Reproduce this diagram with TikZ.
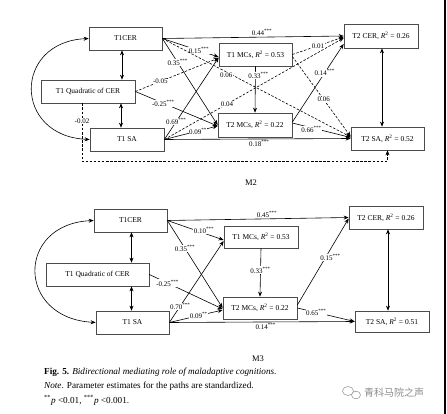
\documentclass[tikz,border=0pt]{standalone}
\usepackage{fontspec}
\setmainfont{Liberation Serif}
\newfontfamily\cjkfont{Noto Sans CJK SC}
\usetikzlibrary{arrows.meta,calc}
\newcommand\pthree{\textsuperscript{***}}
\newcommand\ptwo{\textsuperscript{**}}
\newcommand\Rsq{\textit{R}\textsuperscript{2}}
\begin{document}
\begin{tikzpicture}[x=1pt,y=-1pt,
 box/.style={draw=black!70,line width=0.7pt,minimum width=#1,minimum height=23pt,inner sep=0pt,font=\fontsize{7.5}{9}\selectfont},
 box/.default=73pt,
 pth/.style={line width=0.6pt,-{Stealth[length=5pt,width=4pt]}},
 dpth/.style={pth,dash pattern=on 2.5pt off 1.6pt},
 dbl/.style={line width=0.6pt,{Stealth[length=5pt,width=4pt]}-{Stealth[length=5pt,width=4pt]}},
 lab/.style={font=\fontsize{7}{8}\selectfont,fill=white,inner sep=0.5pt},
 nlab/.style={font=\fontsize{7}{8}\selectfont,inner sep=1pt}
]
\useasboundingbox (0,0) rectangle (447,414);
\fill[white] (0,0) rectangle (447,414);

% ---------------- M2 ----------------
\node[box=73pt] (a1) at (125.5,38.5) {T1CER};
\node[box=94pt] (q1) at (88,91.5) {T1 Quadratic of CER};
\node[box=74pt] (s1) at (127,139.5) {T1 SA};
\node[box=73pt] (m1) at (255.5,54.5) {T1 MCs, \Rsq{} = 0.53};
\node[box=74pt,minimum height=24pt] (n1) at (255,125) {T2 MCs, \Rsq{} = 0.22};
\node[box=74pt,minimum height=24pt] (c2) at (381,36) {T2 CER, \Rsq{} = 0.26};
\node[box=73pt] (t2) at (387.5,138.5) {T2 SA, \Rsq{} = 0.52};

\coordinate (aq1) at ($(a1.south)+(-3.5,0)$);
\coordinate (sq1) at ($(s1.north)+(-6,0)$);
\coordinate (ct2) at ($(c2.south)+(1,0)$);

\draw[pth] (a1.east) -- node[nlab,above,pos=0.55]{0.44\pthree} (c2.west);
\draw[pth] (a1.east) -- node[lab,pos=0.65]{0.15\pthree} ($(m1.west)+(0,2.5)$);
\draw[pth] (a1.east) -- node[lab,pos=0.28]{0.35\pthree} (n1.west);
\draw[dpth] (a1.east) -- node[lab,pos=0.34,yshift=-3pt]{0.06} ($(t2.west)+(0,-1.5)$);
\draw[dpth] (q1.east) -- node[lab,pos=0.30]{-0.05} ($(m1.west)+(0,3.5)$);
\draw[pth] (q1.east) -- node[lab,pos=0.34]{-0.25\pthree} ($(n1.west)+(0,1)$);
\draw[pth] (s1.east) -- node[lab,pos=0.22]{0.69\pthree} ($(m1.west)+(0,3)$);
\draw[pth] (s1.east) -- node[lab,pos=0.63]{0.09\ptwo} ($(n1.west)+(0,1)$);
\draw[dpth] (s1.east) -- node[lab,pos=0.35]{0.04} ($(c2.west)+(0,2)$);
\draw[pth] (s1.east) -- node[nlab,below,pos=0.51]{0.18\pthree} (t2.west);
\draw[pth] (m1.south) -- node[lab,pos=0.2,xshift=3pt]{0.33\pthree} (n1.north);
\draw[dpth] (m1.east) -- node[lab,pos=0.5]{0.01} ($(c2.west)+(0,1)$);
\draw[dpth] ($(m1.east)+(0,2)$) -- node[lab,pos=0.54]{0.06} ($(t2.west)+(0,-2)$);
\draw[pth] ($(n1.east)+(0,-3)$) -- node[lab,pos=0.63]{0.14\pthree} ($(c2.west)+(0,8)$);
\draw[pth] ($(n1.east)+(0,-2)$) -- node[lab,pos=0.33,yshift=-2pt]{0.66\pthree} ($(t2.west)+(0,-1)$);
\draw[dbl] (ct2) -- (ct2 |- t2.north);
\draw[dbl] (aq1) -- (aq1 |- q1.north);
\draw[dbl] (sq1) -- (sq1 |- q1.south);
\draw[dbl] (a1.west) .. controls (13,42) and (13,136) .. (s1.west);
\draw[dpth] ($(q1.south)+(-6,0)$) -- node[lab,pos=0.3]{-0.02} ++(0,58) -| (t2.south);

\node[font=\fontsize{8.5}{9}\selectfont] (lm2) at (251,183) {M2};

% ---------------- M3 ----------------
\node[box=73pt] (a) at (130.5,220.5) {T1CER};
\node[box=103pt] (q) at (97.5,274.5) {T1 Quadratic of CER};
\node[box=73pt] (s) at (132.5,322.5) {T1 SA};
\node[box=74pt,minimum height=22pt] (m) at (261,237) {T1 MCs, \Rsq{} = 0.53};
\node[box=74pt,minimum height=22pt] (n) at (260,308) {T2 MCs, \Rsq{} = 0.22};
\node[box=74pt] (c) at (386,217.5) {T2 CER, \Rsq{} = 0.26};
\node[box=74pt,minimum height=21pt] (t) at (392,321.5) {T2 SA, \Rsq{} = 0.51};

\coordinate (aq) at ($(a.south)+(1,0)$);
\coordinate (sq) at ($(s.north)+(-1,0)$);
\coordinate (ct) at ($(c.south)+(2,0)$);

\draw[pth] (a.east) -- node[nlab,above,pos=0.55]{0.45\pthree} (c.west);
\draw[pth] (a.east) -- node[lab,pos=0.65,yshift=3pt]{0.10\pthree} ($(m.west)+(0,3)$);
\draw[pth] (a.east) -- node[lab,pos=0.32]{0.35\pthree} (n.west);
\draw[pth] (q.east) -- node[lab,pos=0.25]{-0.25\pthree} ($(n.west)+(0,1)$);
\draw[pth] (s.east) -- node[lab,pos=0.2]{0.70\pthree} ($(m.west)+(0,4)$);
\draw[pth] (s.east) -- node[lab,pos=0.55]{0.09\ptwo} ($(n.west)+(0,2)$);
\draw[pth] (s.east) -- node[nlab,below,pos=0.52]{0.14\pthree} (t.west);
\draw[pth] (m.south) -- node[lab,pos=0.45]{0.33\pthree} (n.north);
\draw[pth] ($(n.east)+(0,-3)$) -- node[lab,pos=0.55,xshift=5pt]{0.15\pthree} ($(c.west)+(0,1)$);
\draw[pth] (n.east) -- node[lab,pos=0.33]{0.65\pthree} (t.west);
\draw[dbl] (ct) -- (ct |- t.north);
\draw[dbl] (aq) -- (aq |- q.north);
\draw[dbl] (sq) -- (sq |- q.south);
\draw[dbl] (a.west) .. controls (16,224) and (16,318) .. (s.west);

\node[font=\fontsize{8.5}{9}\selectfont] (lm3) at (258,359) {M3};

% ---------------- caption ----------------
\node[anchor=west,inner sep=0pt,font=\fontsize{9.2}{10}\selectfont] (cap1) at (44,372) {\textbf{Fig. 5.} \textit{Bidirectional mediating role of maladaptive cognitions.}};
\node[anchor=west,inner sep=0pt,font=\fontsize{9.2}{10}\selectfont] (cap2) at (44,386) {\textit{Note}. Parameter estimates for the paths are standardized.};
\node[anchor=west,inner sep=0pt,font=\fontsize{9.2}{10}\selectfont] (cap3) at (44,400) {\ptwo\textit{p} {<}0.01, \pthree\textit{p} {<}0.001.};

% watermark
\draw[black!40,line width=0.6pt] (348,391) ellipse (5.5 and 4.5);
\draw[black!40,line width=0.6pt,fill=white] (356,395) ellipse (4.5 and 3.8);
\node[anchor=west,inner sep=0pt,text=black!45,font=\cjkfont\fontsize{10}{12}\selectfont] (wm) at (364,393) {青科马院之声};

% right edge bar
\draw[line width=2.2pt] (444.6,0) -- (444.6,414);
\end{tikzpicture}
\end{document}
